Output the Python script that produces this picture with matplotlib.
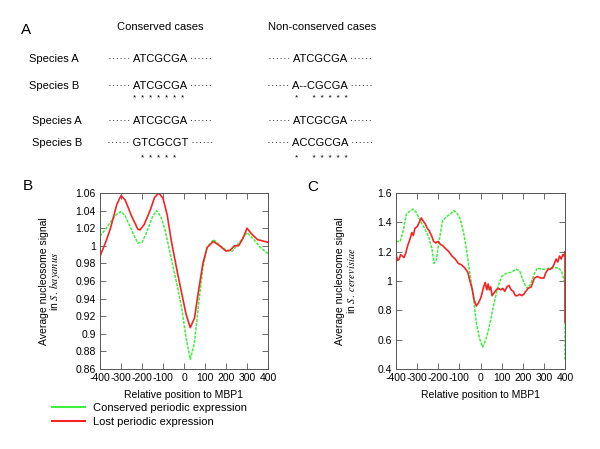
import matplotlib
matplotlib.use("Agg")
import matplotlib.pyplot as plt
from matplotlib.lines import Line2D
from matplotlib.ticker import FormatStrFormatter, MultipleLocator

plt.rcParams["font.family"] = ["Liberation Sans", "DejaVu Sans"]
plt.rcParams["mathtext.fontset"] = "stix"
plt.rcParams["axes.unicode_minus"] = False

# Panel B: S. bayanus
b_pos_green = [-400, -370, -350, -320, -300, -280, -250, -220, -200, -180, -150, -130,
               -110, -90, -60, -30, -10, 10, 30, 50, 70, 90, 110, 140, 170, 200, 230,
               260, 300, 330, 360, 400]
b_green = [1.011, 1.020, 1.027, 1.036, 1.039, 1.034, 1.018, 1.003, 1.004, 1.014, 1.033, 1.040,
           1.033, 1.018, 0.985, 0.952, 0.928, 0.895, 0.871, 0.890, 0.935, 0.975, 0.998, 1.007,
           1.001, 0.995, 0.994, 1.003, 1.015, 1.008, 0.999, 0.991]
b_pos_red = [-400, -370, -350, -320, -300, -280, -250, -220, -210, -190, -160, -140,
             -120, -100, -80, -60, -30, -10, 10, 30, 50, 70, 90, 110, 140, 170, 200, 220,
             240, 260, 280, 300, 320, 350, 400]
b_red = [0.988, 1.006, 1.020, 1.047, 1.057, 1.052, 1.034, 1.019, 1.018, 1.024, 1.041, 1.055,
         1.060, 1.054, 1.035, 1.005, 0.968, 0.945, 0.922, 0.907, 0.918, 0.950, 0.980, 0.998,
         1.005, 1.000, 0.994, 0.995, 1.000, 1.000, 1.008, 1.020, 1.014, 1.007, 1.004]

# Panel C: S. cerevisiae
c_pos_green = [-400, -380, -365, -350, -330, -320, -305, -285, -265, -245, -230, -220,
               -210, -195, -180, -160, -140, -125, -110, -95, -80, -65, -50, -35, -20,
               -5, 10, 25, 40, 60, 80, 100, 120, 145, 170, 185, 200, 215, 225, 240,
               255, 270, 290, 310, 330, 350, 370, 385, 400, 400]
c_green = [1.27, 1.27, 1.35, 1.46, 1.48, 1.49, 1.47, 1.41, 1.36, 1.30, 1.22, 1.12,
           1.14, 1.28, 1.41, 1.44, 1.46, 1.48, 1.46, 1.42, 1.33, 1.20, 1.05, 0.90, 0.72,
           0.61, 0.55, 0.60, 0.68, 0.82, 0.95, 1.03, 1.05, 1.06, 1.08, 1.07, 1.01, 0.96,
           0.95, 0.99, 1.05, 1.09, 1.08, 1.08, 1.09, 1.09, 1.09, 1.06, 0.98, 0.46]
c_pos_red = [-400, -392, -385, -378, -370, -362, -354, -345, -335, -325, -318, -310,
             -300, -290, -280, -272, -262, -252, -242, -232, -222, -212, -200, -190,
             -178, -165, -150, -135, -120, -105, -90, -75, -60, -50, -40, -30, -20, -10,
             0, 8, 15, 22, 30, 36, 42, 48, 55, 65, 75, 85, 95, 105, 115, 125, 135, 145,
             155, 165, 175, 185, 195, 205, 215, 225, 240, 255, 270, 285, 300, 310, 320,
             330, 340, 350, 358, 366, 374, 382, 390, 396, 400, 400]
c_red = [1.18, 1.14, 1.15, 1.18, 1.17, 1.16, 1.19, 1.24, 1.28, 1.33, 1.31, 1.36,
         1.37, 1.40, 1.43, 1.41, 1.39, 1.36, 1.34, 1.31, 1.27, 1.26, 1.27, 1.25,
         1.24, 1.22, 1.20, 1.17, 1.15, 1.12, 1.11, 1.09, 1.06, 1.00, 0.95, 0.87, 0.83, 0.85,
         0.88, 0.92, 0.96, 0.99, 0.94, 0.98, 0.94, 0.96, 0.90, 0.92, 0.94, 0.95, 0.94, 0.95,
         0.93, 0.96, 0.97, 0.94, 0.93, 0.90, 0.90, 0.91, 0.90, 0.91, 0.93, 0.95, 0.96, 1.02,
         1.03, 1.02, 1.02, 1.06, 1.08, 1.08, 1.09, 1.12, 1.15, 1.13, 1.17, 1.15, 1.18, 1.17,
         1.20, 0.72]

# Panel A: alignment examples
col_titles = ["Conserved cases", "Non-conserved cases"]
row_labels = ["Species A", "Species B", "Species A", "Species B"]
conserved_seqs = ["ATCGCGA", "ATCGCGA", "ATCGCGA", "GTCGCGT"]
nonconserved_seqs = ["ATCGCGA", "A--CGCGA", "ATCGCGA", "ACCGCGA"]
conserved_stars = ["*  *  *  *  *  *  *", "*  *  *  *  *"]
nonconserved_stars = ["*      *  *  *  *  *", "*      *  *  *  *  *"]

legend_labels = ["Conserved periodic expression", "Lost periodic expression"]

GREEN = "#3ef03e"
RED = "#f42424"
W, H = 600, 449


def fx(px):
    return px / W


def fy(py):
    return 1 - py / H


fig = plt.figure(figsize=(6, 4.49), dpi=100)

# ---- panel A (text only)
fig.text(fx(21), fy(30), "A", fontsize=11, va="center", ha="left")
fig.text(fx(160), fy(27), col_titles[0], fontsize=8, ha="center", va="center")
fig.text(fx(322), fy(27), col_titles[1], fontsize=8, ha="center", va="center")
row_y = [59, 86, 121, 143]
row_x = [54, 54, 57, 57]
dots = "\u00b7\u00b7\u00b7\u00b7\u00b7\u00b7"
for lab, x, y in zip(row_labels, row_x, row_y):
    fig.text(fx(x), fy(y), lab, fontsize=8, ha="center", va="center")
for s1, s2, y in zip(conserved_seqs, nonconserved_seqs, row_y):
    fig.text(fx(160), fy(y), f"{dots} {s1} {dots}", fontsize=8, ha="center", va="center")
    fig.text(fx(320), fy(y), f"{dots} {s2} {dots}", fontsize=8, ha="center", va="center")
for s1, s2, y in zip(conserved_stars, nonconserved_stars, [99, 158]):
    fig.text(fx(159), fy(y), s1, fontsize=6, ha="center", va="center")
    fig.text(fx(321), fy(y), s2, fontsize=6, ha="center", va="center")

# ---- panels B and C
axB = fig.add_axes([fx(100), fy(369), (268 - 100) / W, (369 - 193) / H])
axC = fig.add_axes([fx(396), fy(369), (565 - 396) / W, (369 - 193) / H])

axB.plot(b_pos_green, b_green, color=GREEN, lw=1.1, ls=(0, (2, 0.8)))
axB.plot(b_pos_red, b_red, color=RED, lw=1.2)
axB.set_ylim(0.86, 1.06)
axB.yaxis.set_major_locator(MultipleLocator(0.02))

axC.plot(c_pos_green, c_green, color=GREEN, lw=1.1, ls=(0, (2, 0.8)))
axC.plot(c_pos_red, c_red, color=RED, lw=1.2)
axC.set_ylim(0.4, 1.6)
axC.yaxis.set_major_locator(MultipleLocator(0.2))

for ax in (axB, axC):
    ax.set_xlim(-400, 400)
    ax.xaxis.set_major_locator(MultipleLocator(100))
    ax.yaxis.set_major_formatter(FormatStrFormatter("%g"))
    ax.tick_params(direction="in", top=True, right=True, length=4, width=0.6,
                   labelsize=7.5, pad=3, color="#555555")
    for sp in ax.spines.values():
        sp.set_linewidth(0.7)
        sp.set_color("#555555")
    ax.set_xlabel("Relative position to MBP1", fontsize=7.5, labelpad=5)

fig.text(fx(23), fy(186), "B", fontsize=11, ha="left", va="center")
fig.text(fx(307), fy(187), "C", fontsize=11, ha="left", va="center")

fig.text(fx(44), fy(281), "Average nucleosome signal", rotation=90, fontsize=7.5,
         ha="center", va="center")
fig.text(fx(55), fy(281), r"in $\mathit{S.\ bayanus}$", rotation=90, fontsize=7.5,
         ha="center", va="center")
fig.text(fx(340), fy(281), "Average nucleosome signal", rotation=90, fontsize=7.5,
         ha="center", va="center")
fig.text(fx(351), fy(281), r"in $\mathit{S.\ cerevisiae}$", rotation=90, fontsize=7.5,
         ha="center", va="center")

handles = [Line2D([], [], color=GREEN, lw=1.5), Line2D([], [], color=RED, lw=1.5)]
fig.legend(handles, legend_labels, loc="upper left", bbox_to_anchor=(fx(52), fy(403)),
           frameon=False, fontsize=8, handlelength=3.0, handletextpad=0.7,
           labelspacing=0.35, borderpad=0, borderaxespad=0)

fig.savefig("out.png", dpi=100)
